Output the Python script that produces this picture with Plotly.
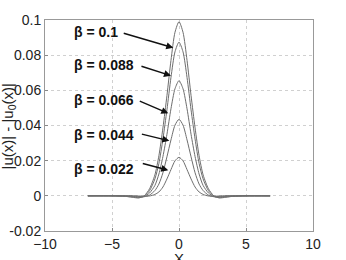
import plotly.graph_objects as go

x = [-6.8, -5, -4, -3.5, -3, -2.6, -2.2, -1.8, -1.5, -1.2, -0.9, -0.6, -0.3, 0,
     0.3, 0.6, 0.9, 1.2, 1.5, 1.8, 2.2, 2.6, 3, 3.5, 4, 5, 6.8]

u_b100 = [0, 0, -0.0003, -0.0008, -0.0012, 0.0, 0.0040, 0.0119, 0.0228, 0.0386, 0.0570, 0.0770, 0.0930, 0.0990,
          0.0930, 0.0770, 0.0570, 0.0386, 0.0228, 0.0119, 0.0040, 0.0, -0.0012, -0.0008, -0.0003, 0, 0]
u_b088 = [0, 0, -0.0003, -0.0006, -0.0010, -0.0002, 0.0029, 0.0096, 0.0184, 0.0323, 0.0489, 0.0673, 0.0819, 0.0874,
          0.0819, 0.0673, 0.0489, 0.0323, 0.0184, 0.0096, 0.0029, -0.0002, -0.0010, -0.0006, -0.0003, 0, 0]
u_b066 = [0, 0, -0.0001, -0.0003, -0.0007, -0.0004, 0.0016, 0.0059, 0.0124, 0.0223, 0.0350, 0.0495, 0.0609, 0.0655,
          0.0609, 0.0495, 0.0350, 0.0223, 0.0124, 0.0059, 0.0016, -0.0004, -0.0007, -0.0003, -0.0001, 0, 0]
u_b044 = [0, 0, 0, -0.0001, -0.0004, -0.0005, 0.0004, 0.0030, 0.0067, 0.0131, 0.0222, 0.0318, 0.0402, 0.0435,
          0.0402, 0.0318, 0.0222, 0.0131, 0.0067, 0.0030, 0.0004, -0.0005, -0.0004, -0.0001, 0, 0, 0]
u_b022 = [0, 0, 0, 0, -0.0001, -0.0002, -0.0001, 0.0008, 0.0022, 0.0050, 0.0096, 0.0149, 0.0199, 0.0219,
          0.0199, 0.0149, 0.0096, 0.0050, 0.0022, 0.0008, -0.0001, -0.0002, -0.0001, 0, 0, 0, 0]

series = [u_b100, u_b088, u_b066, u_b044, u_b022]

labels = ["β = 0.1", "β = 0.088", "β = 0.066", "β = 0.044", "β = 0.022"]
label_x = [-7.95, -7.95, -7.95, -7.95, -7.95]
label_y = [0.0931, 0.0744, 0.0545, 0.0345, 0.0152]
tip_x = [-0.43, -0.6, -0.8, -0.72, -0.8]
tip_y = [0.0842, 0.0683, 0.0469, 0.0313, 0.0146]
tail_dx = [-51, -31, -30, -29, -27]
tail_dy = [-15, -10, -13, -7, -7]

x_ticks = [-10, -5, 0, 5, 10]
y_ticks = [-0.02, 0, 0.02, 0.04, 0.06, 0.08, 0.1]
y_ticktext = ["-0.02", "0", "0.02", "0.04", "0.06", "0.08", "0.1"]
y_title = "|u(x)| - |u<sub>0</sub>(x)|"
x_title = "X"

fig = go.Figure()
for s in series:
    fig.add_trace(go.Scatter(x=x, y=s, mode="lines",
                             line=dict(color="#6e6e6e", width=1, shape="spline", smoothing=0.7),
                             showlegend=False, hoverinfo="skip"))

annotations = []
for i in range(len(labels)):
    annotations.append(dict(x=label_x[i], y=label_y[i], xref="x", yref="y", text="<b>%s</b>" % labels[i],
                            showarrow=False, xanchor="left", yanchor="middle",
                            font=dict(family="Liberation Sans, Arial", size=14, color="#111")))
    annotations.append(dict(x=tip_x[i], y=tip_y[i], xref="x", yref="y", text="", showarrow=True,
                            ax=tail_dx[i], ay=tail_dy[i], arrowhead=2, arrowsize=1, arrowwidth=1.4,
                            arrowcolor="#111", standoff=0, startstandoff=0))

annotations.append(dict(x=0, y=0.5, xref="paper", yref="paper", text=y_title, textangle=-90,
                        showarrow=False, xanchor="center", yanchor="middle", xshift=-37, yshift=-1,
                        font=dict(family="Liberation Sans, Arial", size=15, color="#222")))
annotations.append(dict(x=0.5, y=0, xref="paper", yref="paper", text=x_title,
                        showarrow=False, xanchor="center", yanchor="top", yshift=-17,
                        font=dict(family="Liberation Sans, Arial", size=15, color="#222")))

fig.update_layout(
    width=346, height=260,
    margin=dict(l=45, r=33, t=20, b=29),
    paper_bgcolor="white", plot_bgcolor="white",
    font=dict(family="Liberation Sans, Arial", size=14, color="#222"),
    annotations=annotations,
)
fig.update_xaxes(range=[-10, 10], tickvals=x_ticks, ticks="inside", ticklen=3, tickcolor="#888",
                 showline=True, linecolor="#999", linewidth=1, mirror=True,
                 showgrid=True, gridcolor="#d0d0d0", griddash="dot", gridwidth=1, zeroline=False,
                 automargin=False)
fig.update_yaxes(range=[-0.02, 0.1], tickvals=y_ticks, ticktext=y_ticktext, ticks="inside", ticklen=3,
                 tickcolor="#888", showline=True, linecolor="#999", linewidth=1, mirror=True,
                 showgrid=True, gridcolor="#d0d0d0", griddash="dot", gridwidth=1, zeroline=False,
                 automargin=False)

fig.write_html("out.html", config={"displayModeBar": False},
               post_script="document.body.style.margin='0';")
